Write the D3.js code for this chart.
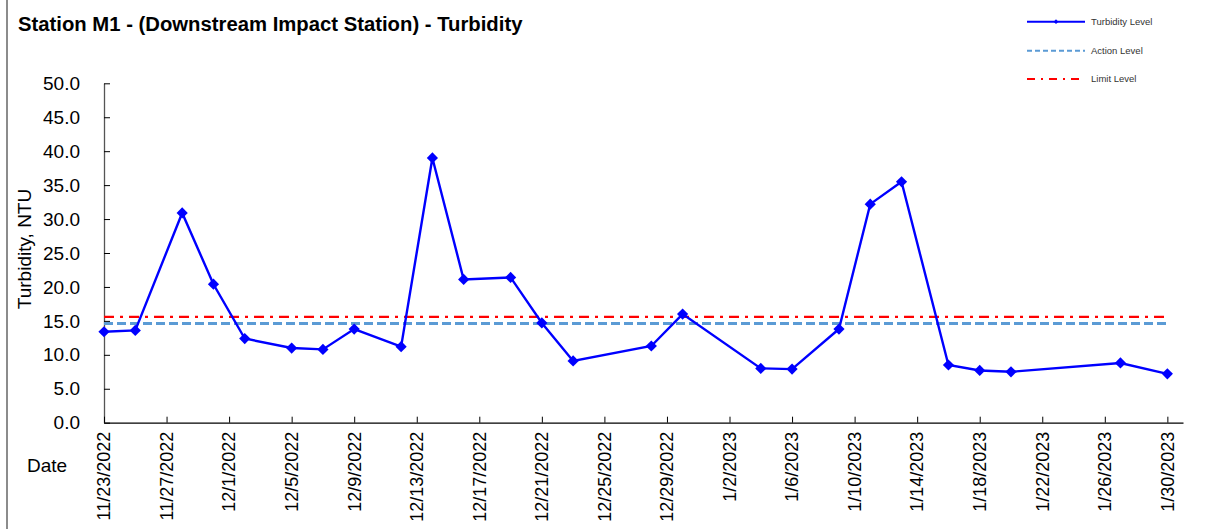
<!DOCTYPE html>
<html>
<head>
<meta charset="utf-8">
<script src="https://cdn.jsdelivr.net/npm/d3@7"></script>
<style>
  body { margin: 0; background: #fff; }
  text { font-family: "Liberation Sans", Arial, sans-serif; }
</style>
</head>
<body>
<div id="wrapper"></div>
<script>
// data
const dates = ["11/23/2022","11/25/2022","11/28/2022","11/30/2022","12/2/2022","12/5/2022",
  "12/7/2022","12/9/2022","12/12/2022","12/14/2022","12/16/2022","12/19/2022","12/21/2022",
  "12/23/2022","12/28/2022","12/30/2022","1/4/2023","1/6/2023","1/9/2023","1/11/2023",
  "1/13/2023","1/16/2023","1/18/2023","1/20/2023","1/27/2023","1/30/2023"]
const turbidity = [13.4, 13.6, 30.9, 20.4, 12.4, 11.0, 10.8, 13.8, 11.2, 39.0, 21.1, 21.4, 14.7,
  9.1, 11.3, 16.0, 8.0, 7.9, 13.8, 32.2, 35.5, 8.5, 7.7, 7.5, 8.8, 7.2]
const actionLevel = 14.6
const limitLevel = 15.6
const xTickLabels = ["11/23/2022","11/27/2022","12/1/2022","12/5/2022","12/9/2022","12/13/2022",
  "12/17/2022","12/21/2022","12/25/2022","12/29/2022","1/2/2023","1/6/2023","1/10/2023",
  "1/14/2023","1/18/2023","1/22/2023","1/26/2023","1/30/2023"]
const xDomain = ["11/23/2022", "1/31/2023"]
const yTicks = d3.range(0, 50.01, 5)

function drawChart() {
  const parse = d3.timeParse("%m/%d/%Y")
  const dataset = dates.map((d, i) => ({ date: parse(d), value: turbidity[i] }))
  const xAccessor = d => d.date
  const yAccessor = d => d.value

  const dimensions = {
    width: 1231,
    height: 529,
    margin: { top: 83.3, right: 48, bottom: 106.3, left: 104 },
  }
  dimensions.boundedWidth = dimensions.width - dimensions.margin.left - dimensions.margin.right
  dimensions.boundedHeight = dimensions.height - dimensions.margin.top - dimensions.margin.bottom

  const svg = d3.select("#wrapper").append("svg")
      .attr("width", dimensions.width)
      .attr("height", dimensions.height)

  // left border of chart area
  svg.append("line")
      .attr("x1", 7).attr("x2", 7).attr("y1", 0).attr("y2", dimensions.height)
      .attr("stroke", "#8c8c8c").attr("stroke-width", 2)

  svg.append("text")
      .attr("x", 18).attr("y", 31)
      .attr("font-size", 20.3).attr("font-weight", "bold")
      .text("Station M1 - (Downstream Impact Station) - Turbidity")

  const bounds = svg.append("g")
      .attr("transform", `translate(${dimensions.margin.left},${dimensions.margin.top})`)

  // scales
  const xScale = d3.scaleTime()
    .domain(xDomain.map(parse))
    .range([0, dimensions.boundedWidth])

  const yScale = d3.scaleLinear()
    .domain([0, 50])
    .range([dimensions.boundedHeight, 0])

  // axes
  const yAxis = bounds.append("g")
    .call(d3.axisRight(yScale).tickValues(yTicks).tickSize(6).tickFormat("").tickSizeOuter(0))
  yAxis.select(".domain").attr("stroke", "#555").attr("stroke-width", 1.3)
  yAxis.selectAll(".tick line").attr("stroke", "#000")

  bounds.append("g").selectAll("text")
    .data(yTicks)
    .join("text")
      .attr("x", -24)
      .attr("y", d => yScale(d))
      .attr("dy", "0.35em")
      .attr("text-anchor", "end")
      .attr("font-size", 19)
      .text(d3.format(".1f"))

  const tickDates = xTickLabels.map(parse)
  const xAxis = bounds.append("g")
      .attr("transform", `translate(0,${dimensions.boundedHeight})`)
    .call(d3.axisTop(xScale).tickValues(tickDates).tickSize(6).tickFormat("").tickSizeOuter(0))
  xAxis.select(".domain").attr("stroke", "#000").attr("stroke-width", 1.3)
  xAxis.selectAll(".tick line").attr("stroke", "#000")

  bounds.append("g").selectAll("text")
    .data(xTickLabels)
    .join("text")
      .attr("transform", d => `translate(${xScale(parse(d))},${dimensions.boundedHeight + 9}) rotate(-90)`)
      .attr("dy", "0.35em")
      .attr("text-anchor", "end")
      .attr("font-size", 18)
      .text(d => d)

  svg.append("text")
      .attr("x", 27).attr("y", 472)
      .attr("font-size", 19)
      .text("Date")

  svg.append("text")
      .attr("transform", "translate(31,249) rotate(-90)")
      .attr("text-anchor", "middle")
      .attr("font-size", 19)
      .text("Turbidity, NTU")

  // reference lines
  const x0 = xScale(dataset[0].date)
  const x1 = xScale(dataset[dataset.length - 1].date)
  bounds.append("line")
      .attr("x1", x0).attr("x2", x1)
      .attr("y1", yScale(actionLevel)).attr("y2", yScale(actionLevel))
      .attr("stroke", "#5b9bd5").attr("stroke-width", 3)
      .attr("stroke-dasharray", "9,4")
  bounds.append("line")
      .attr("x1", x0).attr("x2", x1)
      .attr("y1", yScale(limitLevel)).attr("y2", yScale(limitLevel))
      .attr("stroke", "#ff0000").attr("stroke-width", 2.2)
      .attr("stroke-dasharray", "10,6,3,6")

  // data line
  const lineGenerator = d3.line()
    .x(d => xScale(xAccessor(d)))
    .y(d => yScale(yAccessor(d)))

  bounds.append("path")
      .attr("d", lineGenerator(dataset))
      .attr("fill", "none")
      .attr("stroke", "#0000ff")
      .attr("stroke-width", 2.4)

  const diamond = d3.symbol().type(d3.symbolDiamond2).size(80)
  bounds.selectAll(".marker")
    .data(dataset)
    .join("path")
      .attr("class", "marker")
      .attr("transform", d => `translate(${xScale(xAccessor(d))},${yScale(yAccessor(d))})`)
      .attr("d", diamond)
      .attr("fill", "#0000ff")

  // legend
  const legendItems = [
    { label: "Turbidity Level", y: 21.7 },
    { label: "Action Level", y: 50.7 },
    { label: "Limit Level", y: 79 },
  ]
  const legend = svg.append("g")
  legend.append("line")
      .attr("x1", 1027).attr("x2", 1085).attr("y1", legendItems[0].y).attr("y2", legendItems[0].y)
      .attr("stroke", "#0000ff").attr("stroke-width", 2)
  legend.append("path")
      .attr("transform", `translate(1056,${legendItems[0].y})`)
      .attr("d", d3.symbol().type(d3.symbolDiamond2).size(14))
      .attr("fill", "#0000ff")
  legend.append("line")
      .attr("x1", 1027).attr("x2", 1085).attr("y1", legendItems[1].y).attr("y2", legendItems[1].y)
      .attr("stroke", "#5b9bd5").attr("stroke-width", 2)
      .attr("stroke-dasharray", "5,3")
  legend.append("line")
      .attr("x1", 1027).attr("x2", 1085).attr("y1", legendItems[2].y).attr("y2", legendItems[2].y)
      .attr("stroke", "#ff0000").attr("stroke-width", 2)
      .attr("stroke-dasharray", "8,6,2,6")
  legend.selectAll("text")
    .data(legendItems)
    .join("text")
      .attr("x", 1091)
      .attr("y", d => d.y)
      .attr("dy", "0.35em")
      .attr("font-size", 9.5)
      .attr("fill", "#333")
      .text(d => d.label)
}
drawChart()
</script>
</body>
</html>
